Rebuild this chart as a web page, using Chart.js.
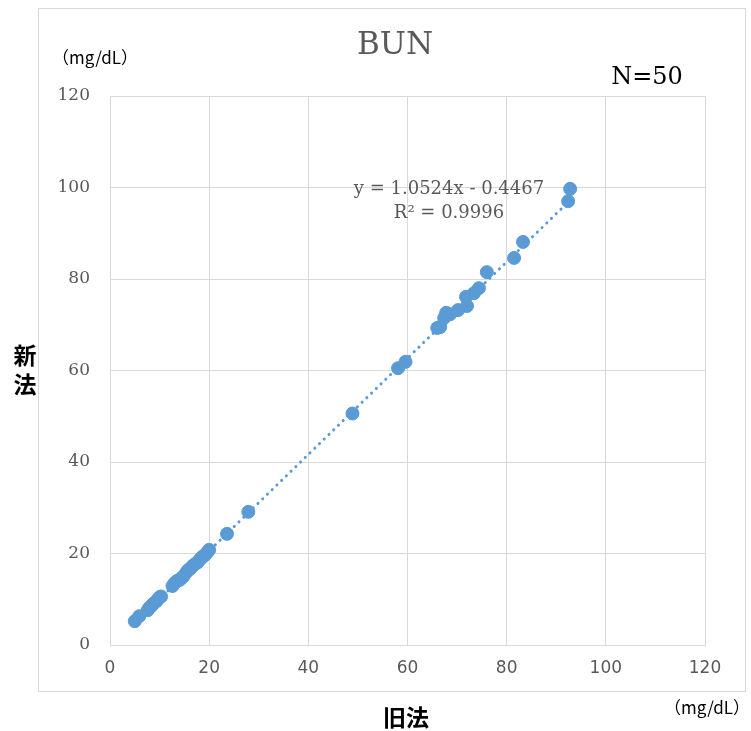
<!DOCTYPE html>
<html>
<head>
<meta charset="utf-8">
<script src="https://cdn.jsdelivr.net/npm/chart.js@4.4.1/dist/chart.umd.min.js"></script>
<style>
  html, body { margin: 0; padding: 0; background: #fff; }
  canvas { display: block; }
</style>
</head>
<body>
<canvas id="chart" width="751" height="731"></canvas>
<script>
// old method (x) vs new method (y), BUN mg/dL
const oldValues = [
  5.0, 5.9, 7.6, 7.9, 8.2, 8.5, 8.8, 9.4, 9.8, 10.1,
  10.3, 12.6, 13.0, 13.5, 14.0, 14.4, 14.8, 15.4, 15.8, 16.2,
  16.6, 17.0, 17.6, 17.9, 18.3, 18.6, 18.9, 19.3, 19.7, 20.0,
  23.6, 27.9, 48.9, 58.1, 59.6, 66.0, 66.6, 67.4, 67.8, 68.6,
  70.2, 72.0, 71.8, 73.4, 74.4, 76.0, 81.5, 83.3, 92.4, 92.8
];
const newValues = [
  5.2, 6.3, 7.6, 8.1, 8.4, 8.7, 9.1, 9.6, 10.2, 10.5,
  10.6, 12.9, 13.5, 14.0, 14.2, 14.6, 15.0, 15.9, 16.4, 16.7,
  17.2, 17.6, 18.0, 18.4, 18.9, 19.2, 19.5, 19.8, 20.4, 20.8,
  24.3, 29.1, 50.6, 60.5, 61.9, 69.3, 69.5, 71.5, 72.6, 72.3,
  73.2, 74.1, 76.1, 76.9, 78.0, 81.5, 84.6, 88.1, 97.0, 99.7
];
const slope = 1.0524;
const intercept = -0.4467;
const rSquared = 0.9996;
const xTicks = [0, 20, 40, 60, 80, 100, 120];
const yTicks = [0, 20, 40, 60, 80, 100, 120];

const blue = "#5B9BD5";
const gray = "#595959";
const gridGray = "#d9d9d9";
const serif = "'DejaVu Serif', 'Liberation Serif', serif";
const sans = "'DejaVu Sans', 'Noto Sans', sans-serif";
const cjk = "'Noto Sans CJK JP', sans-serif";

const points = oldValues.map((x, i) => ({ x, y: newValues[i] }));
const xMin = Math.min(...oldValues);
const xMax = Math.max(...oldValues);
const trend = [xMin, xMax].map(x => ({ x, y: slope * x + intercept }));

const decorations = {
  id: "decorations",
  beforeDraw(chart) {
    const ctx = chart.ctx;
    ctx.save();
    ctx.fillStyle = "#fff";
    ctx.fillRect(0, 0, chart.width, chart.height);
    ctx.strokeStyle = gridGray;
    ctx.lineWidth = 1;
    ctx.strokeRect(38.5, 8.5, 707, 683);
    ctx.restore();
  },
  afterDraw(chart) {
    const ctx = chart.ctx;
    ctx.save();
    ctx.textBaseline = "middle";
    ctx.textAlign = "center";

    ctx.fillStyle = gray;
    ctx.font = "31px " + serif;
    ctx.fillText("BUN", 395, 46);

    ctx.fillStyle = "#000";
    ctx.font = "24px " + serif;
    ctx.fillText("N=50", 647, 78);

    ctx.fillStyle = gray;
    ctx.font = "18px " + serif;
    ctx.fillText("y = " + slope + "x - " + Math.abs(intercept), 449, 189);
    ctx.fillText("R\u00B2 = " + rSquared, 449, 213);

    ctx.fillStyle = "#000";
    ctx.font = "17px " + cjk;
    ctx.fillText("（mg/dL）", 95, 58);
    ctx.fillText("（mg/dL）", 707, 708);

    ctx.font = "bold 23px " + cjk;
    ctx.fillText("旧法", 406, 717);
    ctx.fillText("新", 25, 355);
    ctx.fillText("法", 25, 384);
    ctx.restore();
  }
};

new Chart(document.getElementById("chart"), {
  type: "scatter",
  data: {
    datasets: [
      {
        label: "trend",
        type: "line",
        data: trend,
        borderColor: blue,
        borderWidth: 3,
        borderDash: [0.1, 6.5],
        borderCapStyle: "round",
        pointRadius: 0,
        fill: false,
        order: 2
      },
      {
        label: "BUN",
        data: points,
        backgroundColor: blue,
        borderColor: blue,
        pointRadius: 6.5,
        pointHoverRadius: 6.5,
        order: 1
      }
    ]
  },
  options: {
    responsive: false,
    animation: false,
    devicePixelRatio: 1,
    layout: { padding: { left: 0, right: 46, top: 96, bottom: 46 } },
    plugins: {
      legend: { display: false },
      tooltip: { enabled: false }
    },
    scales: {
      x: {
        type: "linear",
        min: 0,
        max: 120,
        afterBuildTicks: scale => { scale.ticks = xTicks.map(v => ({ value: v })); },
        afterFit: scale => { scale.height = 40; },
        grid: { color: gridGray, drawTicks: false },
        border: { color: gridGray, width: 1 },
        ticks: {
          padding: 13,
          color: gray,
          font: { family: sans, size: 17 }
        }
      },
      y: {
        type: "linear",
        min: 0,
        max: 120,
        afterBuildTicks: scale => { scale.ticks = yTicks.map(v => ({ value: v })); },
        afterFit: scale => { scale.width = 110; },
        grid: { color: gridGray, drawTicks: false },
        border: { color: gridGray, width: 1 },
        ticks: {
          padding: 20,
          color: gray,
          font: { family: serif, size: 17 }
        }
      }
    }
  },
  plugins: [decorations]
});
</script>
</body>
</html>
